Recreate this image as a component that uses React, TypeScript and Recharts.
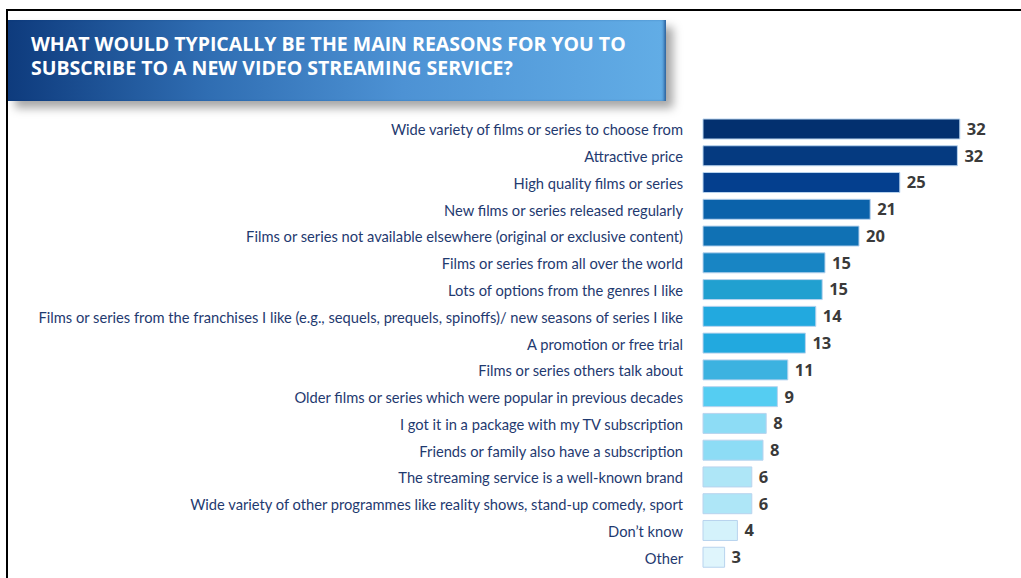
import React from 'react';
import { BarChart, Bar, XAxis, YAxis, Cell, LabelList } from 'recharts';

const categories = [
  'Wide variety of films or series to choose from',
  'Attractive price',
  'High quality films or series',
  'New films or series released regularly',
  'Films or series not available elsewhere (original or exclusive content)',
  'Films or series from all over the world',
  'Lots of options from the genres I like',
  'Films or series from the franchises I like (e.g., sequels, prequels, spinoffs)/ new seasons of series I like',
  'A promotion or free trial',
  'Films or series others talk about',
  'Older films or series which were popular in previous decades',
  'I got it in a package with my TV subscription',
  'Friends or family also have a subscription',
  'The streaming service is a well-known brand',
  'Wide variety of other programmes like reality shows, stand-up comedy, sport',
  'Don\u2019t know',
  'Other',
];

const values = [32.1, 31.8, 24.6, 20.9, 19.5, 15.25, 14.9, 14.1, 12.8, 10.6, 9.3, 7.9, 7.5, 6.1, 6.1, 4.3, 2.7];

const barColors = [
  '#03306f', '#053a80', '#043f8e', '#0b62aa', '#1071b4', '#1885c4', '#21a0d0', '#22a9df', '#22a9df',
  '#3cb2e0', '#55cdf2', '#8ddcf5', '#8ddcf5', '#aee6f7', '#aee6f7', '#d4f2fb', '#dff5fc',
];

const titleLines = [
  'WHAT WOULD TYPICALLY BE THE MAIN REASONS FOR YOU TO',
  'SUBSCRIBE TO A NEW VIDEO STREAMING SERVICE?',
];

const data = categories.map((name, i) => ({ name, value: values[i] }));

const CategoryTick = (props: any) => {
  const { x, y, payload } = props;
  return (
    <text
      x={x}
      y={y}
      dy={6}
      textAnchor="end"
      fill="#1f3a70"
      fontFamily="Lato, 'Open Sans', sans-serif"
      fontSize={14.7}
    >
      {payload.value}
    </text>
  );
};

export default function App() {
  return (
    <div style={{ position: 'absolute', left: 0, top: 0, width: 1021, height: 578, background: '#fff', overflow: 'hidden' }}>
      <div
        style={{
          position: 'absolute',
          left: 6,
          top: 9,
          width: 1100,
          height: 700,
          borderTop: '2px solid #000',
          borderLeft: '2px solid #000',
        }}
      />
      <div style={{ position: 'absolute', left: 0, top: 0 }}>
        <BarChart
          width={1021}
          height={578}
          data={data}
          layout="vertical"
          margin={{ top: 116, right: 14, bottom: 7, left: 0 }}
        >
          <XAxis type="number" domain={[0, 38]} hide />
          <YAxis
            type="category"
            dataKey="name"
            width={703}
            axisLine={false}
            tickLine={false}
            tickSize={0}
            tickMargin={20}
            interval={0}
            tick={<CategoryTick />}
          />
          <Bar dataKey="value" barSize={20} stroke="#b8d3ee" strokeWidth={1} isAnimationActive={false}>
            {data.map((d, i) => (
              <Cell key={d.name} fill={barColors[i]} />
            ))}
            <LabelList
              dataKey="value"
              position="right"
              offset={7}
              formatter={(v: any) => Math.round(Number(v))}
              style={{ fill: '#3a3a3a', fontWeight: 700, fontSize: 16.5, fontFamily: "'Open Sans', sans-serif" }}
            />
          </Bar>
        </BarChart>
      </div>
      <div
        style={{
          position: 'absolute',
          left: 8,
          top: 20,
          width: 658,
          height: 81,
          background: 'linear-gradient(90deg, #0e3b7d 0%, #2f6db2 30%, #4d92d4 60%, #62ade6 100%)',
          boxShadow: '7px 7px 9px rgba(0,0,0,0.35), inset -3px 0 3px -1px rgba(10,50,110,0.6)',
          boxSizing: 'border-box',
          paddingLeft: 23,
          paddingTop: 12,
          color: '#fff',
          fontFamily: "'Open Sans', sans-serif",
          fontWeight: 700,
          fontSize: 19.5,
          lineHeight: '24px',
          whiteSpace: 'nowrap',
        }}
      >
        {titleLines.map((l) => (
          <div key={l}>{l}</div>
        ))}
      </div>
    </div>
  );
}
